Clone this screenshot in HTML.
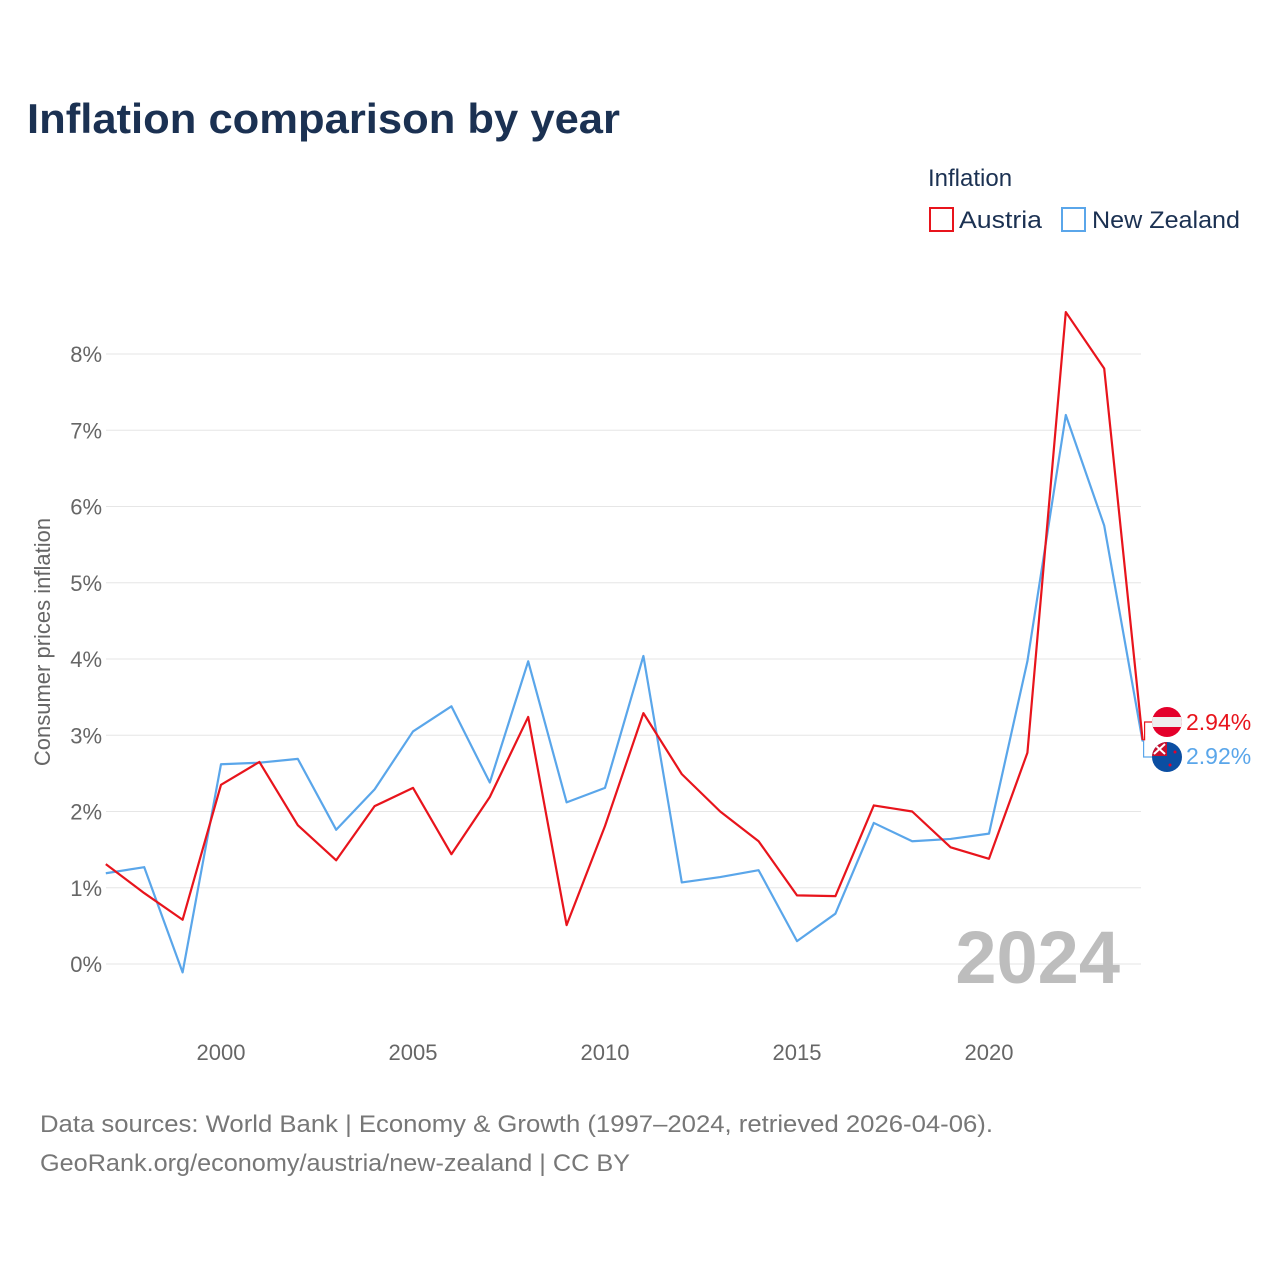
<!DOCTYPE html>
<html><head><meta charset="utf-8"><style>
body{margin:0;background:#fff;width:1280px;height:1280px;overflow:hidden;font-family:"Liberation Sans",sans-serif}
</style></head><body>
<svg width="1280" height="1280" xmlns="http://www.w3.org/2000/svg">
<text x="27" y="133" font-size="42" font-weight="bold" fill="#1b3152" textLength="593" lengthAdjust="spacingAndGlyphs">Inflation comparison by year</text>
<text x="928" y="186" font-size="24" fill="#1b3152">Inflation</text>
<g><rect x="930" y="208" width="23" height="23" fill="none" stroke="#e8141c" stroke-width="2"/><text x="959" y="228" font-size="24" fill="#1b3152" textLength="83" lengthAdjust="spacingAndGlyphs">Austria</text></g>
<g><rect x="1062" y="208" width="23" height="23" fill="none" stroke="#5aa6ea" stroke-width="2"/><text x="1092" y="228" font-size="24" fill="#1b3152" textLength="148" lengthAdjust="spacingAndGlyphs">New Zealand</text></g>
<g id="grid"></g><g id="yticks"></g><g id="xticks"></g>
<text transform="translate(50,642) rotate(-90)" text-anchor="middle" font-size="22" fill="#666">Consumer prices inflation</text>
<text x="1120" y="983" text-anchor="end" font-size="74" font-weight="bold" fill="#bdbdbd">2024</text>
<g id="series"></g>
<text x="40" y="1132" font-size="24" fill="#777" textLength="953" lengthAdjust="spacingAndGlyphs">Data sources: World Bank | Economy &amp; Growth (1997–2024, retrieved 2026-04-06).</text>
<text x="40" y="1171" font-size="24" fill="#777" textLength="590" lengthAdjust="spacingAndGlyphs">GeoRank.org/economy/austria/new-zealand | CC BY</text>
</svg>
<script>
const years=[1997,1998,1999,2000,2001,2002,2003,2004,2005,2006,2007,2008,2009,2010,2011,2012,2013,2014,2015,2016,2017,2018,2019,2020,2021,2022,2023,2024];
const austria=[1.31,0.93,0.58,2.35,2.65,1.82,1.36,2.07,2.31,1.44,2.19,3.24,0.51,1.81,3.29,2.49,2.00,1.61,0.90,0.89,2.08,2.00,1.53,1.38,2.77,8.55,7.81,2.94];
const nz=[1.19,1.27,-0.11,2.62,2.64,2.69,1.76,2.29,3.05,3.38,2.38,3.97,2.12,2.31,4.04,1.07,1.14,1.23,0.30,0.66,1.85,1.61,1.64,1.71,3.97,7.20,5.75,2.92];
const yTicks=[0,1,2,3,4,5,6,7,8];
const xTicks=[2000,2005,2010,2015,2020];
const NS="http://www.w3.org/2000/svg";
const X=v=>221+(v-2000)*38.4, Y=v=>964-v*76.25;
function mk(t,a,p){const e=document.createElementNS(NS,t);for(const k in a)e.setAttribute(k,a[k]);document.getElementById(p).appendChild(e);return e;}
yTicks.forEach(t=>{
 const l=mk('line',{x1:106,x2:1141,y1:Y(t),y2:Y(t),stroke:'#e6e6e6','stroke-width':1},'grid');
 
 
 const tx=mk('text',{x:102,y:Y(t)+8,'text-anchor':'end','font-size':22,fill:'#666'},'yticks');tx.textContent=t+'%';
 
 
});
xTicks.forEach(t=>{
 const tx=mk('text',{x:X(t),y:1060,'text-anchor':'middle','font-size':22,fill:'#666'},'xticks');tx.textContent=t;
 
 
});
function line(vals,col,name){
 const p=mk('polyline',{points:vals.map((v,i)=>X(years[i])+','+Y(v)).join(' '),fill:'none',stroke:col,'stroke-width':2.2,'stroke-linejoin':'round'},'series');
 
 
}
line(nz,'#5aa6ea','line-new-zealand');
line(austria,'#e8141c','line-austria');
const lx=X(years[years.length-1]);
const ay=Y(austria[austria.length-1]), ny=Y(nz[nz.length-1]);
mk('polyline',{points:`${lx},${ay} ${lx+2},${ay} ${lx+2},722 1152,722`,fill:'none',stroke:'#e8141c','stroke-width':1.2},'series');
mk('polyline',{points:`${lx},${ny} ${lx+1},${ny} ${lx+1},757 1152,757`,fill:'none',stroke:'#5aa6ea','stroke-width':1.2},'series');
const g=document.getElementById('series');
g.insertAdjacentHTML('beforeend',`
<g><clipPath id="ca"><circle cx="1167" cy="722" r="15"/></clipPath><g clip-path="url(#ca)"><rect x="1150" y="705" width="34" height="34" fill="#e4002b"/><rect x="1150" y="717" width="34" height="10" fill="#eee"/></g></g>
<g><clipPath id="cn"><circle cx="1167" cy="757" r="15"/></clipPath><g clip-path="url(#cn)"><rect x="1150" y="740" width="34" height="34" fill="#0b4ea2"/><rect x="1152" y="742" width="15" height="14" fill="#c8102e"/><path d="M1154 744 L1165 754 M1165 744 L1154 754" stroke="#fff" stroke-width="2"/><circle cx="1175" cy="752" r="1.5" fill="#e4002b"/><circle cx="1170" cy="765" r="1.5" fill="#e4002b"/></g></g>
<text x="1186" y="730" font-size="23" fill="#e8141c">${austria[austria.length-1].toFixed(2)}%</text>
<text x="1186" y="764" font-size="23" fill="#5aa6ea">${nz[nz.length-1].toFixed(2)}%</text>`);
</script>
</body></html>
